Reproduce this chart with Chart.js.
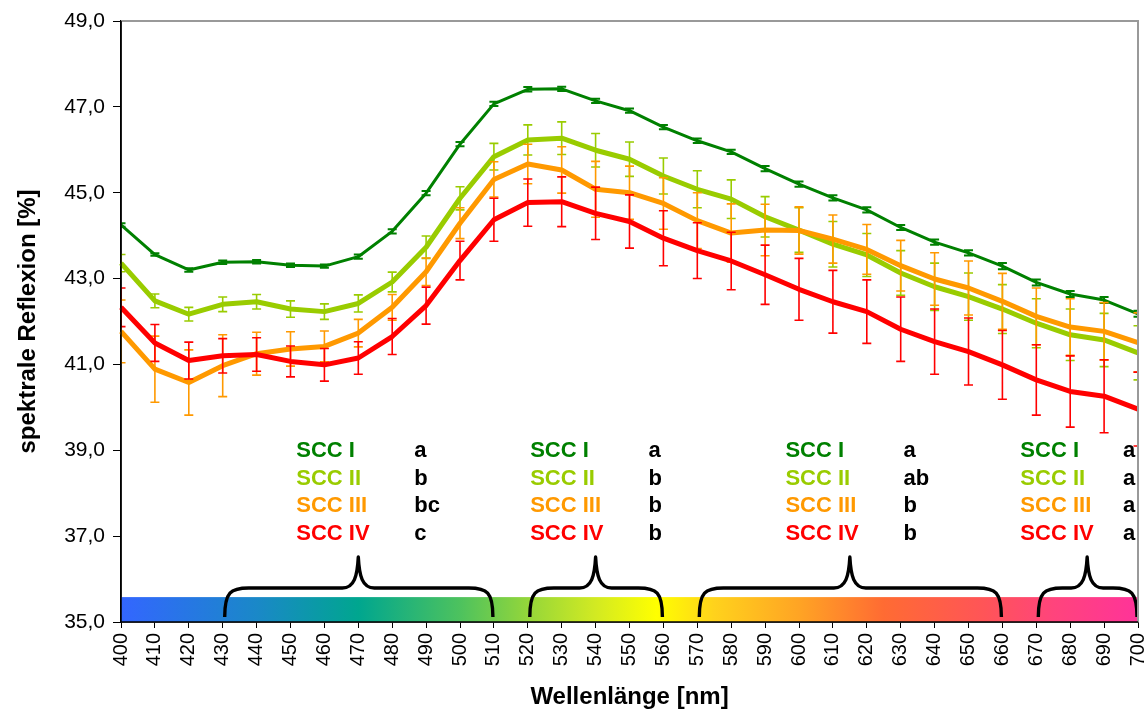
<!DOCTYPE html>
<html>
<head>
<meta charset="utf-8">
<script src="https://cdn.jsdelivr.net/npm/chart.js@4/dist/chart.umd.min.js"></script>
<style>
html,body{margin:0;padding:0;background:#fff;}
#wrap{width:1148px;height:709px;position:relative;}
</style>
</head>
<body>
<div id="wrap"><canvas id="c" width="1148" height="709"></canvas></div>
<script>
// ---------- data ----------
const wavelengths = [400,410,420,430,440,450,460,470,480,490,500,510,520,530,540,550,560,570,580,590,600,610,620,630,640,650,660,670,680,690,700];

const sccI   = [44.25,43.56,43.20,43.38,43.39,43.31,43.29,43.51,44.10,44.99,46.13,47.07,47.41,47.42,47.14,46.91,46.53,46.21,45.95,45.56,45.20,44.88,44.60,44.19,43.85,43.60,43.29,42.91,42.64,42.50,42.18];
const sccIErr = [0.04,0.03,0.04,0.04,0.04,0.04,0.04,0.05,0.05,0.05,0.05,0.05,0.05,0.05,0.05,0.05,0.05,0.05,0.05,0.06,0.06,0.06,0.06,0.06,0.06,0.06,0.07,0.07,0.07,0.07,0.07];

const sccII  = [43.36,42.48,42.17,42.40,42.46,42.29,42.23,42.42,42.92,43.73,44.87,45.84,46.23,46.27,45.99,45.78,45.39,45.08,44.85,44.44,44.13,43.80,43.55,43.13,42.81,42.58,42.29,41.96,41.69,41.57,41.27];
const sccIIErr = [0.20,0.16,0.16,0.17,0.17,0.19,0.18,0.20,0.23,0.26,0.27,0.31,0.35,0.38,0.39,0.40,0.42,0.43,0.45,0.47,0.52,0.53,0.50,0.52,0.55,0.55,0.57,0.57,0.60,0.62,0.63];

const sccIII = [41.77,40.89,40.58,40.97,41.25,41.36,41.42,41.73,42.33,43.16,44.29,45.31,45.67,45.53,45.08,45.00,44.75,44.35,44.06,44.13,44.12,43.92,43.68,43.30,42.99,42.78,42.47,42.12,41.87,41.77,41.51];
const sccIIIErr = [0.73,0.77,0.76,0.72,0.50,0.40,0.36,0.32,0.30,0.32,0.36,0.41,0.46,0.54,0.65,0.62,0.60,0.65,0.68,0.60,0.55,0.56,0.58,0.59,0.61,0.63,0.65,0.66,0.66,0.67,0.69];

const sccIV  = [42.33,41.50,41.09,41.20,41.23,41.07,40.99,41.15,41.65,42.37,43.42,44.37,44.77,44.79,44.52,44.33,43.94,43.65,43.41,43.09,42.75,42.46,42.23,41.82,41.53,41.30,40.99,40.64,40.37,40.26,39.96];
const sccIVErr = [0.45,0.43,0.43,0.40,0.39,0.36,0.38,0.38,0.42,0.43,0.45,0.50,0.55,0.58,0.61,0.62,0.64,0.65,0.67,0.69,0.72,0.73,0.74,0.75,0.76,0.78,0.80,0.82,0.83,0.85,0.86];

const seriesNames = ['SCC I','SCC II','SCC III','SCC IV'];

// wavelength groups (braces) and significance letters
const groupStart = [430, 520, 570, 670];
const groupEnd   = [510, 560, 660, 700];
const groupLetters = [
  ['a','b','bc','c'],
  ['a','b','b','b'],
  ['a','ab','b','b'],
  ['a','a','a','a']
];

// visible spectrum strip
const spectrumNm     = [400, 440, 470, 500, 520, 540, 558, 575, 600, 625, 655, 675, 700];
const spectrumColors = ['#3366FF','#1A88C8','#00A68F','#4DC25E','#94D63A','#D2EA22','#FFFF00','#FFD21C','#FFA424','#FF6B33','#FF5458','#FF447C','#FF3399'];

const yTicksMin = 35, yTicksMax = 49, yTickStep = 2;

// ---------- layout / style constants ----------
const COLORS = ['#008000','#99CC00','#FF9900','#FF0000'];
const LINE_W = [3, 5, 5, 5];
const FONT = '"Liberation Sans", Arial, Helvetica, sans-serif';
const PLOT = {left:121, top:21, right:1138, bottom:622};
// annotation placement (in wavelength units / y values)
const annotNameX   = [451.7, 520.7, 596.0, 665.3];
const annotLetterX = [486.5, 555.6, 630.8, 695.6];
const annotRowY    = [38.98, 38.33, 37.70, 37.04];
const stripTopValue = 35.58;

const errs = [sccIErr, sccIIErr, sccIIIErr, sccIVErr];
const vals = [sccI, sccII, sccIII, sccIV];

const datasets = vals.map((v,i)=>({
  label: seriesNames[i],
  data: v,
  errors: errs[i],
  borderColor: COLORS[i],
  backgroundColor: COLORS[i],
  borderWidth: LINE_W[i],
  pointRadius: 0,
  tension: 0,
  order: 4 - i,
  borderJoinStyle: 'round',
  borderCapStyle: 'butt'
}));

const nmPxOf = (chart, nm) => {
  const xs = chart.scales.x;
  const a = xs.getPixelForValue(0), b = xs.getPixelForValue(wavelengths.length-1);
  return a + (nm - wavelengths[0]) / (wavelengths[wavelengths.length-1]-wavelengths[0]) * (b-a);
};

const bgPlugin = {
  id:'bg',
  beforeDraw(chart){
    const ctx = chart.ctx;
    ctx.save(); ctx.fillStyle='#fff'; ctx.fillRect(0,0,chart.width,chart.height); ctx.restore();
  }
};

const stripPlugin = {
  id:'strip',
  beforeDatasetsDraw(chart){
    const ctx = chart.ctx, xs = chart.scales.x, ys = chart.scales.y;
    const x0 = xs.getPixelForValue(0), x1 = xs.getPixelForValue(wavelengths.length-1);
    const yTop = ys.getPixelForValue(stripTopValue), yBot = ys.getPixelForValue(yTicksMin);
    const g = ctx.createLinearGradient(x0,0,x1,0);
    spectrumNm.forEach((nm,i)=>g.addColorStop((nm-wavelengths[0])/(wavelengths[wavelengths.length-1]-wavelengths[0]), spectrumColors[i]));
    ctx.save();
    ctx.fillStyle = g;
    ctx.fillRect(x0, yTop, x1-x0, yBot-yTop);
    ctx.restore();
  },
  afterDatasetsDraw(chart){
    const ctx = chart.ctx, ys = chart.scales.y;
    const nmPx = nm => nmPxOf(chart, nm);
    const yBase = ys.getPixelForValue(yTicksMin);
    // braces
    ctx.save();
    ctx.strokeStyle = '#000';
    ctx.lineWidth = 3.4;
    ctx.lineJoin = 'round';
    ctx.lineCap = 'butt';
    groupStart.forEach((s,i)=>{
      const xa = nmPx(s) + 2, xb = nmPx(groupEnd[i]) - 1;
      const xm = nmPx((s + groupEnd[i]) / 2);
      const tipY = yBase - 5, hY = yBase - 34, pY = yBase - 65;
      ctx.beginPath();
      ctx.moveTo(xa, tipY);
      ctx.bezierCurveTo(xa, hY+4, xa+6, hY, xa+24, hY);
      ctx.lineTo(xm-16, hY);
      ctx.bezierCurveTo(xm-4, hY, xm-1, hY-12, xm, pY);
      ctx.bezierCurveTo(xm+1, hY-12, xm+4, hY, xm+16, hY);
      ctx.lineTo(xb-24, hY);
      ctx.bezierCurveTo(xb-6, hY, xb, hY+4, xb, tipY);
      ctx.stroke();
    });
    ctx.restore();
    // annotation texts
    ctx.save();
    const ca = chart.chartArea;
    ctx.beginPath();
    ctx.rect(ca.left, ca.top, ca.right - ca.left, ca.bottom - ca.top);
    ctx.clip();
    ctx.font = 'bold 22px ' + FONT;
    ctx.textBaseline = 'middle';
    ctx.textAlign = 'left';
    groupStart.forEach((s,g)=>{
      seriesNames.forEach((name,r)=>{
        const y = ys.getPixelForValue(annotRowY[r]);
        ctx.fillStyle = COLORS[r];
        ctx.fillText(name, nmPx(annotNameX[g]), y);
        ctx.fillStyle = '#000';
        ctx.fillText(groupLetters[g][r], nmPx(annotLetterX[g]), y);
      });
    });
    ctx.restore();
  }
};

const errPlugin = {
  id:'errbars',
  afterDatasetDraw(chart, args){
    const ds = chart.data.datasets[args.index];
    const meta = args.meta;
    const ys = chart.scales.y, ca = chart.chartArea, ctx = chart.ctx;
    ctx.save();
    ctx.beginPath();
    ctx.rect(ca.left, ca.top - 5, ca.right - ca.left, ca.bottom - ca.top + 5);
    ctx.clip();
    ctx.strokeStyle = ds.borderColor;
    ctx.lineWidth = args.index === 0 ? 2 : 1.6;
    ctx.beginPath();
    meta.data.forEach((pt,i)=>{
      const v = ds.data[i], e = ds.errors[i];
      const yt = ys.getPixelForValue(v+e), yb = ys.getPixelForValue(v-e);
      const x = pt.x;
      ctx.moveTo(x, yt); ctx.lineTo(x, yb);
      ctx.moveTo(x-4.5, yt); ctx.lineTo(x+4.5, yt);
      ctx.moveTo(x-4.5, yb); ctx.lineTo(x+4.5, yb);
    });
    ctx.stroke();
    ctx.restore();
  }
};

const framePlugin = {
  id:'frame',
  afterDraw(chart){
    const ctx = chart.ctx, ca = chart.chartArea;
    ctx.save();
    ctx.strokeStyle = '#999';
    ctx.lineWidth = 2;
    ctx.beginPath();
    ctx.moveTo(ca.left, ca.top); ctx.lineTo(ca.right, ca.top); ctx.lineTo(ca.right, ca.bottom);
    ctx.stroke();
    ctx.strokeStyle = '#000';
    ctx.lineWidth = 1.5;
    ctx.beginPath();
    ctx.moveTo(ca.left, ca.top); ctx.lineTo(ca.left, ca.bottom); ctx.lineTo(ca.right, ca.bottom);
    ctx.stroke();
    ctx.restore();
  }
};

new Chart(document.getElementById('c'), {
  type:'line',
  data:{ labels: wavelengths.map(String), datasets },
  options:{
    responsive:false,
    animation:false,
    devicePixelRatio:1,
    layout:{ padding:{ top:PLOT.top, right:1148-PLOT.right, left:0, bottom:0 } },
    plugins:{ legend:{display:false}, tooltip:{enabled:false} },
    scales:{
      x:{
        type:'category',
        offset:false,
        grid:{ display:true, drawOnChartArea:false, drawTicks:true, tickLength:6, color:'#000', lineWidth:1 },
        border:{ display:true, color:'#000', width:1.5 },
        ticks:{ autoSkip:false, minRotation:90, maxRotation:90, color:'#000', font:{ family:FONT, size:20 }, padding:5 },
        title:{ display:true, text:'Wellenlänge [nm]', color:'#000', font:{ family:FONT, size:24, weight:'bold', lineHeight:1.0 }, padding:{top:4,bottom:0} },
        afterFit(s){ s.height = 709 - PLOT.bottom; s.paddingLeft = 0; s.paddingRight = 0; }
      },
      y:{
        min:yTicksMin, max:yTicksMax,
        grid:{ display:true, drawOnChartArea:false, drawTicks:true, tickLength:8, color:'#000', lineWidth:1 },
        border:{ display:true, color:'#000', width:1.5 },
        ticks:{ stepSize:yTickStep, color:'#000', font:{ family:FONT, size:21 }, padding:8,
          callback:v=>v.toFixed(1).replace('.',',') },
        title:{ display:true, text:'spektrale Reflexion [%]', color:'#000', font:{ family:FONT, size:24, weight:'bold' }, padding:{top:14,bottom:0} },
        afterFit(s){ s.width = PLOT.left; s.paddingTop = 0; s.paddingBottom = 0; }
      }
    }
  },
  plugins:[bgPlugin, stripPlugin, errPlugin, framePlugin]
});
</script>
</body>
</html>
